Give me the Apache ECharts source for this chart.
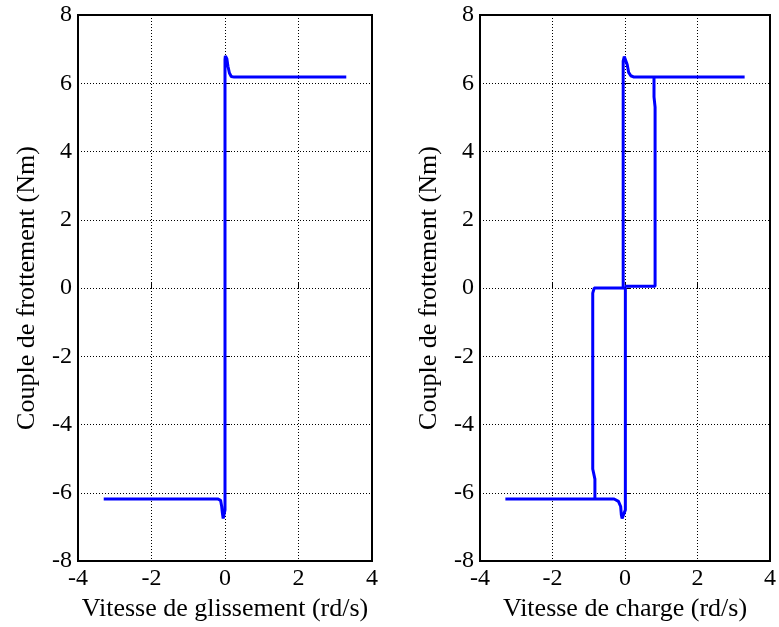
<!DOCTYPE html>
<html>
<head>
<meta charset="utf-8">
<script src="https://cdn.jsdelivr.net/npm/echarts@6/dist/echarts.min.js"></script>
<style>html,body{margin:0;padding:0;background:#fff}#c{width:779px;height:627px}</style>
</head>
<body>
<div id="c"></div>
<script>
// Left plot: friction torque vs sliding speed
var leftCurve = [
  [-3.3,-6.18],[-0.2,-6.18],[-0.12,-6.22],[-0.09,-6.4],[-0.07,-6.6],[-0.05,-6.75],[-0.02,-6.72],[0.0,-6.5],
  [0.0,6.7],[0.01,6.8],[0.05,6.72],[0.08,6.5],[0.12,6.3],[0.17,6.2],[0.25,6.18],[3.3,6.18]
];
// Right plot: friction torque vs load speed (several branches)
var rightBottom = [
  [-3.3,-6.18],[-0.3,-6.18],[-0.18,-6.25],[-0.12,-6.4],[-0.1,-6.65],[-0.08,-6.75],[-0.03,-6.7],[0.01,-6.5],[0.01,0.0]
];
var rightLeftLoop = [
  [-0.83,-6.18],[-0.83,-5.6],[-0.89,-5.3],[-0.89,-0.15],[-0.85,0.0],[0.0,0.0]
];
var rightTop = [
  [-0.05,0.0],[-0.05,6.65],[-0.02,6.78],[0.02,6.75],[0.06,6.55],[0.1,6.32],[0.16,6.22],[0.25,6.18],[3.3,6.18]
];
var rightRightLoop = [
  [0.8,6.18],[0.8,5.6],[0.83,5.3],[0.83,0.05],[0.0,0.05]
];
var xTicks = [-4,-2,0,2,4];
var yTicks = [-8,-6,-4,-2,0,2,4,6,8];
var xNames = ['Vitesse de glissement (rd/s)', 'Vitesse de charge (rd/s)'];
var yName = 'Couple de frottement (Nm)';

var font = 'Liberation Serif, Times New Roman, serif';
function xAx(i){
  return {
    type:'value', gridIndex:i, min:xTicks[0], max:xTicks[xTicks.length-1], interval:2,
    name:xNames[i], nameLocation:'middle', nameGap:30,
    nameTextStyle:{fontFamily:font, fontSize:26, color:'#000'},
    axisLine:{show:false}, axisTick:{show:true, inside:true, length:5, lineStyle:{color:'#000'}},
    axisLabel:{fontFamily:font, fontSize:24, color:'#000', margin:6},
    splitLine:{show:true, lineStyle:{color:'#000', type:[1,2], width:1}}
  };
}
function yAx(i){
  return {
    type:'value', gridIndex:i, min:yTicks[0], max:yTicks[yTicks.length-1], interval:2,
    name:yName, nameLocation:'middle', nameGap:38,
    nameTextStyle:{fontFamily:font, fontSize:26, color:'#000'},
    axisLine:{show:false}, axisTick:{show:true, inside:true, length:5, lineStyle:{color:'#000'}},
    axisLabel:{fontFamily:font, fontSize:24, color:'#000', margin:6},
    splitLine:{show:true, lineStyle:{color:'#000', type:[1,2], width:1}}
  };
}
function ser(i, d){
  return {type:'line', xAxisIndex:i, yAxisIndex:i, data:d, showSymbol:false, symbol:'none',
    lineStyle:{color:'#0000ff', width:3}, animation:false, z:3};
}
var chart = echarts.init(document.getElementById('c'));
chart.setOption({
  animation:false,
  grid:[
    {left:78, top:15, width:294, height:549, show:true, borderColor:'#000', borderWidth:2, backgroundColor:'transparent'},
    {left:480, top:15, width:293, height:549, show:true, borderColor:'#000', borderWidth:2, backgroundColor:'transparent'}
  ],
  xAxis:[xAx(0), xAx(1)],
  yAxis:[yAx(0), yAx(1)],
  series:[
    ser(0, leftCurve),
    ser(1, rightBottom), ser(1, rightLeftLoop), ser(1, rightTop), ser(1, rightRightLoop)
  ]
});
</script>
</body>
</html>
